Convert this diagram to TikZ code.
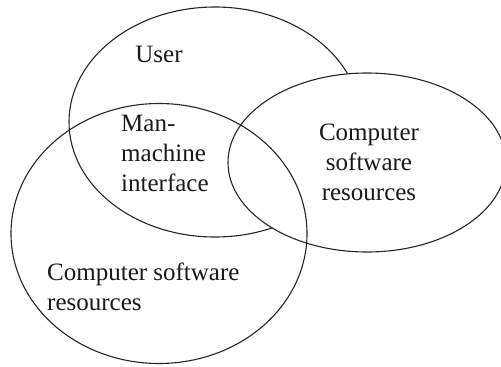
\documentclass[tikz,border=0pt]{standalone}
\usepackage{fontspec}
\setmainfont{Liberation Serif}
\usetikzlibrary{shapes.geometric}
\begin{document}
\begin{tikzpicture}[x=1pt,y=-1pt,
  venn/.style={ellipse,draw=black!85,line width=1.1pt,inner sep=0pt},
  lbl/.style={inner sep=0pt,font=\fontsize{25}{30}\selectfont,text=black!90}]
\useasboundingbox (0,0) rectangle (501,367);
\node[venn,minimum width=292pt,minimum height=230pt] (user) at (215,122) {};
\node[venn,fill=white,minimum width=278pt,minimum height=179pt] (right) at (367,162.5) {};
\node[venn,minimum width=296pt,minimum height=260pt] (left) at (159,233.5) {};
\node[lbl,anchor=base] (tuser) at (159,62) {User};
\node[lbl,anchor=base west,align=left] (tmm) at (121,191) {Man-\\machine\\interface};
\node[lbl,anchor=base,align=center] (tright) at (369,200) {Computer\\software\\resources};
\node[lbl,anchor=base west,align=left] (tleft) at (47,310) {Computer software\\resources};
\end{tikzpicture}
\end{document}
